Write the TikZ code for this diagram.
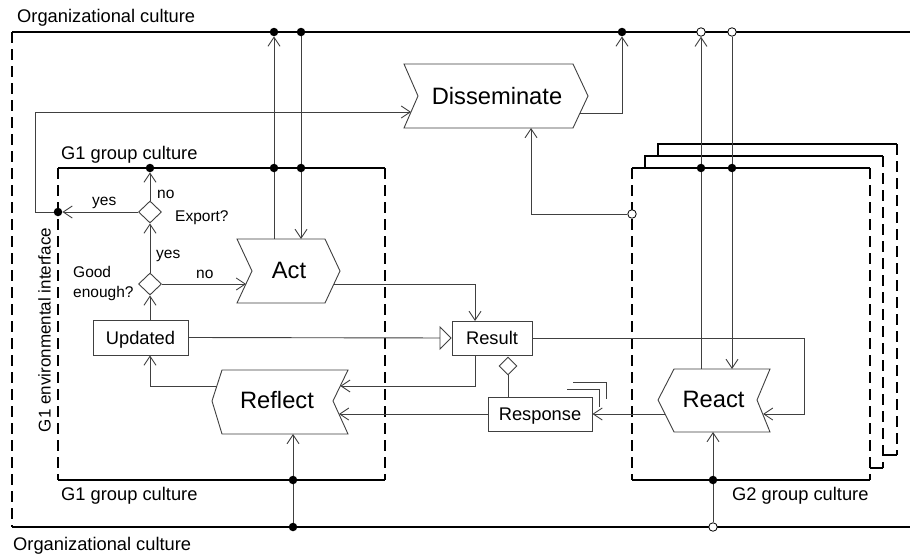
\documentclass[tikz,border=0pt]{standalone}
\usepackage{fontspec}
\setmainfont{Liberation Sans}
\usetikzlibrary{arrows.meta,shapes.geometric,calc}
\pgfdeclarelayer{background}
\pgfsetlayers{background,main}
\newcommand\szBig{\fontsize{23.7}{28}\selectfont}
\newcommand\szMed{\fontsize{18.3}{22}\selectfont}
\newcommand\szSmall{\fontsize{15.5}{20}\selectfont}
\newcommand\szEnv{\fontsize{17}{20}\selectfont}
\definecolor{lineg}{HTML}{404040}
\begin{document}
\begin{tikzpicture}[x=1pt,y=-1pt,
  frame/.style={line width=1.8pt,black},
  dframe/.style={frame,dash pattern=on 11pt off 6pt},
  conn/.style={line width=0.9pt,draw=lineg},
  arr/.style={conn,-{Straight Barb[length=9pt,width=12pt]}},
  gen/.style={conn,-{Triangle[open,length=12pt,width=24pt]}},
  shapeline/.style={draw=lineg,line width=0.9pt},
  dot/.style={circle,fill=black,inner sep=0pt,minimum size=8.5pt},
  odot/.style={circle,draw=black,fill=white,line width=0.8pt,inner sep=0pt,minimum size=8.5pt},
  box/.style={shapeline,fill=white,font=\szMed,text height=13.2pt,text depth=0pt,inner sep=0pt},
  dec/.style={diamond,shapeline,fill=white,inner sep=0pt,minimum width=23pt,minimum height=22pt},
  lbl/.style={inner sep=0pt,anchor=base west},
  big/.style={inner sep=0pt,anchor=base,font=\szBig}
]
\useasboundingbox (0,0) rectangle (910,554);

% ---------- text labels ----------
\node[lbl,font=\szMed] (orgT) at (17,22.7) {Organizational culture};
\node[lbl,font=\szMed] (orgB) at (13,550) {Organizational culture};
\node[lbl,font=\szMed] (g1T) at (61,159) {G1 group culture};
\node[lbl,font=\szMed] (g1B) at (61,500) {G1 group culture};
\node[lbl,font=\szMed] (g2B) at (732,500) {G2 group culture};
\node[rotate=90,inner sep=0pt,font=\szEnv] (env) at (44.5,330) {G1 environmental interface};
\node[lbl,font=\szSmall] (lExp) at (175,221) {Export?};
\node[inner sep=0pt,anchor=west,align=left,font=\szSmall] (lGood) at (73,283) {Good\\enough?};
\node[lbl,font=\szSmall] (lYes1) at (92,205) {yes};
\node[lbl,font=\szSmall] (lNo1) at (157,198) {no};
\node[lbl,font=\szSmall] (lYes2) at (156,258) {yes};
\node[lbl,font=\szSmall] (lNo2) at (196,278) {no};

% ---------- process shapes ----------
\draw[shapeline] (237,239) -- (325,239) -- (340,271) -- (325,303) -- (237,303) -- (252,271) -- cycle;
\node[big] (act) at (289,278) {Act};
\draw[shapeline] (404,64) -- (573,64) -- (588,96) -- (573,128) -- (404,128) -- (418,96) -- cycle;
\node[big] (dis) at (497,104) {Disseminate};
\draw[shapeline] (658,400) -- (674,369) -- (770,369) -- (757,400) -- (770,432) -- (674,432) -- cycle;
\node[big] (react) at (713.5,407) {React};
\draw[shapeline] (212,401) -- (222,370) -- (348,370) -- (333,401) -- (348,434) -- (222,434) -- cycle;
\node[big] (refl) at (277,408) {Reflect};

% ---------- boxes and decisions ----------
\node[box,minimum width=95pt,minimum height=35pt] (upd) at (140.5,337.5) {Updated};
\node[box,minimum width=80pt,minimum height=34pt] (res) at (492,338) {Result};
\node[box,minimum width=104pt,minimum height=34pt] (resp) at (540,414) {Response};
\node[dec] (exp) at (150,212) {};
\node[dec] (good) at (150,284) {};
\node[diamond,shapeline,fill=white,inner sep=0pt,minimum width=18pt,minimum height=18pt] (agg) at (508,366) {};

% ---------- junction dots ----------
\node[dot] (dOA) at (274,32) {};
\node[dot] (dOB) at (301,32) {};
\node[dot] (dOC) at (622,32) {};
\node[dot] (dGA) at (274,168) {};
\node[dot] (dGB) at (301,168) {};
\node[dot] (dEx) at (150,168) {};
\node[dot] (dYes) at (58,212) {};
\node[dot] (dG2A) at (701,168) {};
\node[dot] (dG2B) at (732,168) {};
\node[dot] (dRb1) at (293,480) {};
\node[dot] (dRb2) at (293,527) {};
\node[dot] (dR2b) at (713,480) {};
\node[odot] (oT1) at (701,32) {};
\node[odot] (oT2) at (732,32) {};
\node[odot] (oB) at (713,527) {};
\node[odot] (oDis) at (632,214) {};

% ---------- ports ----------
\coordinate (pActIn) at (246,284);
\coordinate (pActUp) at (274,239);
\coordinate (pActDown) at (301,239);
\coordinate (pActOut) at (333.5,284);
\coordinate (pDisIn) at (411,112);
\coordinate (pDisOut) at (580,113);
\coordinate (pDisBot) at (531,128);
\coordinate (pReTop1) at (701,369);
\coordinate (pReTop2) at (732,369);
\coordinate (pReBot) at (713,432);
\coordinate (pReIn) at (763,414);
\coordinate (pReOut) at (665,414);
\coordinate (pRfIn1) at (340.3,386);
\coordinate (pRfIn2) at (339,414);
\coordinate (pRfOut) at (216.8,386);
\coordinate (pRfBot) at (293,434);
\coordinate (pYesL) at (35,212);
\coordinate (pResTop) at (475,321);
\coordinate (pResBot) at (475,355);
\coordinate (pRR) at (804,414);

\begin{pgfonlayer}{background}
\fill[white] (0,0) rectangle (910,554);
% ---------- frames ----------
\draw[frame] (910,32) -- (12,32);
\draw[dframe] (12,32) -- (12,527);
\draw[frame] (12,527) -- (910,527);
\draw[frame] (58,168) -- (385,168);
\draw[dframe] (385,168) -- (385,480);
\draw[dframe] (58,168) -- (58,480);
\draw[frame] (58,480) -- (385,480);
\draw[frame] (658,156) -- (658,144) -- (897,144);
\draw[dframe] (897,144) -- (897,455);
\draw[frame] (897,455) -- (883,455);
\draw[frame] (645,168) -- (645,156) -- (883,156);
\draw[dframe] (883,156) -- (883,468);
\draw[frame] (883,468) -- (870,468);
\draw[frame] (632,168) -- (870,168);
\draw[dframe] (632,168) -- (632,480);
\draw[dframe] (870,168) -- (870,480);
\draw[frame] (632,480) -- (870,480);

% ---------- connectors ----------
\draw[arr] (exp.north) -- (dEx);
\draw[arr] (exp.west) -- (dYes);
\draw[arr] (dYes) -- (pYesL) |- (pDisIn);
\draw[arr] (good.north) -- (exp.south);
\draw[arr] (good.east) -- (pActIn);
\draw[arr] (upd.north -| good.south) -- (good.south);
\draw[gen] (upd.east) -- (res.west);
\draw[arr] (pActOut) -| (pResTop);
\draw[arr] (pResBot) |- (pRfIn1);
\draw[arr] (res.east) -| (pRR) -- (pReIn);
\draw[arr] (pReOut) -- (resp.east);
\draw[arr] (resp.west) -- (pRfIn2);
\draw[arr] (pRfOut) -| (upd.south -| good.south);
\draw[conn] (resp.north -| agg.south) -- (agg.south);
\draw[conn] ($(resp.north east)+(-25,-7)$) -| ($(resp.north east)+(7,10)$);
\draw[conn] ($(resp.north east)+(-19,-14)$) -| ($(resp.north east)+(14,2)$);
\draw[arr] (pDisOut) -| (dOC);
\draw[arr] (oDis) -| (pDisBot);
\draw[arr] (pReTop1) -- (oT1);
\draw[arr] (oT2) -- (pReTop2);
\draw[arr] (oB) -- (pReBot);
\draw[arr] (pActUp) -- (dOA);
\draw[arr] (dOB) -- (pActDown);
\draw[arr] (dRb2) -- (pRfBot);
\end{pgfonlayer}
\end{tikzpicture}
\end{document}
